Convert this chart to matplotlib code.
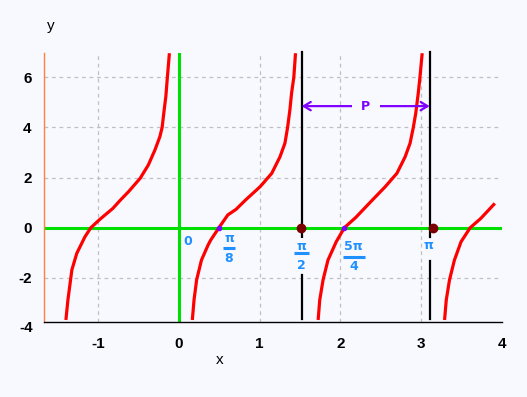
import matplotlib
matplotlib.use("Agg")
import matplotlib.pyplot as plt

# ---- data ----
b1_x = [-1.398, -1.373, -1.324, -1.263, -1.162, -1.089, -0.979, -0.817, -0.724, -0.622, -0.479, -0.378, -0.296, -0.235, -0.207, -0.182, -0.161, -0.142, -0.117]
b1_y = [-3.68, -2.88, -1.68, -1.02, -0.36, 0.0, 0.33, 0.77, 1.10, 1.44, 1.97, 2.50, 3.10, 3.63, 4.0, 4.69, 5.23, 6.0, 6.96]

b2_x = [0.167, 0.188, 0.22, 0.28, 0.362, 0.395, 0.496, 0.606, 0.707, 0.824, 1.007, 1.150, 1.252, 1.313, 1.346, 1.374, 1.395, 1.423, 1.444]
b2_y = [-3.68, -2.88, -2.08, -1.29, -0.69, -0.49, 0.0, 0.51, 0.73, 1.10, 1.64, 2.17, 2.83, 3.37, 4.0, 4.69, 5.36, 6.0, 6.96]

b3_x = [1.724, 1.744, 1.785, 1.846, 1.948, 2.049, 2.19, 2.394, 2.556, 2.699, 2.801, 2.862, 2.902, 2.932, 2.963, 2.984, 3.012]
b3_y = [-3.68, -2.88, -2.08, -1.29, -0.56, 0.0, 0.41, 1.10, 1.64, 2.17, 2.83, 3.37, 4.0, 4.56, 5.36, 6.0, 6.96]

b4_x = [3.289, 3.31, 3.35, 3.411, 3.493, 3.606, 3.737, 3.911]
b4_y = [-3.68, -2.88, -2.08, -1.29, -0.56, 0.0, 0.37, 0.97]

branches = [(b1_x, b1_y), (b2_x, b2_y), (b3_x, b3_y), (b4_x, b4_y)]

zero_pts_x = [0.496, 2.049]          # purple marks on the zero crossings
asym_x = [1.52, 3.105]               # black vertical lines
asym_gap = [(-0.36, -1.89), (-0.36, -1.33)]   # where labels interrupt them
dot_x = [1.51, 3.14]                 # dark red dots on the x axis
arrow_y = 4.85
arrow_label = "P"

x_ticks = [-1, 0, 1, 2, 3, 4]
y_ticks = [-4, -2, 0, 2, 4, 6]
x_grid = [-1, 1, 2, 3]
y_grid = [-2, 2, 4, 6]

# simple labels: text, x, y
simple_labels = [("0", 0.111, -0.56), ("π", 3.094, -0.72)]
# fractions: numerator, denominator, x, numerator y, bar y, denominator y, bar width
fractions = [
    ("π", "8", 0.621, -0.45, -0.82, -1.22, 0.16),
    ("π", "2", 1.517, -0.73, -1.02, -1.49, 0.195),
    ("5π", "4", 2.165, -0.73, -1.16, -1.56, 0.27),
]

BG = "#f8f8ff"
GREEN = "#00e000"
BLUE = "#1e90ff"
PURPLE = "#8000ff"

plt.rcParams["font.family"] = ["Liberation Sans", "DejaVu Sans"]
plt.rcParams["axes.unicode_minus"] = False

fig = plt.figure(figsize=(5.27, 3.97), dpi=100, facecolor=BG)
ax = fig.add_axes([0.0835, 0.1889, 0.8691, 0.6768], facecolor=BG)

ax.set_xlim(-1.669, 3.925)
ax.set_ylim(-3.761, 6.956)

for gx in x_grid:
    ax.axvline(gx, color="#c0c0c0", lw=0.9, ls=(0, (3, 3)), zorder=1)
for gy in y_grid:
    ax.axhline(gy, color="#c0c0c0", lw=0.9, ls=(0, (3, 3)), zorder=1)

ax.axhline(0, color=GREEN, lw=2.2, zorder=2)
ax.axvline(0, color=GREEN, lw=2.2, zorder=2)

for xs, ys in branches:
    ax.plot(xs, ys, color="red", lw=2.3, zorder=4, solid_capstyle="butt")

ax.plot(zero_pts_x, [0] * len(zero_pts_x), "o", color=PURPLE, ms=3, zorder=5)

for ax_x, (g_top, g_bot) in zip(asym_x, asym_gap):
    ax.plot([ax_x, ax_x], [g_top, 6.99], color="black", lw=1.6, zorder=3, clip_on=False)
    ax.plot([ax_x, ax_x], [-3.64, g_bot], color="black", lw=1.6, zorder=3)
ax.plot(dot_x, [0] * len(dot_x), "o", color="#7a0000", ms=6, zorder=6)

ax.annotate("", xy=(asym_x[1], arrow_y), xytext=(asym_x[0], arrow_y),
            arrowprops=dict(arrowstyle="<->,head_length=0.5,head_width=0.3",
                            color=PURPLE, lw=1.6, shrinkA=0, shrinkB=0), zorder=5)
ax.text((asym_x[0] + asym_x[1]) / 2, arrow_y, arrow_label, color=PURPLE,
        fontsize=9, fontweight="bold", ha="center", va="center", zorder=6,
        family="DejaVu Sans",
        bbox=dict(boxstyle="square,pad=0.75", fc=BG, ec="none"))

for txt, lx, ly in simple_labels:
    ax.text(lx, ly, txt, color=BLUE, fontsize=9, fontweight="bold",
            ha="center", va="center", zorder=7, family="DejaVu Sans")

for num, den, fx, ny, by, dy, bw in fractions:
    ax.text(fx, ny, num, color=BLUE, fontsize=9, fontweight="bold",
            ha="center", va="center", zorder=7, family="DejaVu Sans",
            bbox=dict(boxstyle="square,pad=0.1", fc=BG, ec="none"))
    ax.text(fx, dy, den, color=BLUE, fontsize=9, fontweight="bold",
            ha="center", va="center", zorder=7, family="DejaVu Sans")
    ax.plot([fx - bw / 2, fx + bw / 2], [by, by], color=BLUE, lw=2.2,
            solid_capstyle="butt", zorder=7)

ax.set_xticks(x_ticks)
ax.set_yticks([t for t in y_ticks if t > -3.7])
ax.tick_params(axis="both", length=0, labelsize=11, colors="black")
for lab in ax.get_xticklabels() + ax.get_yticklabels():
    lab.set_fontweight("bold")
ax.tick_params(axis="x", pad=11)
ax.tick_params(axis="y", pad=9)
ax.text(-0.025, y_ticks[0], str(y_ticks[0]), transform=ax.get_yaxis_transform(), ha="right",
        va="center", fontsize=11, fontweight="bold", clip_on=False)

for s in ["top", "right"]:
    ax.spines[s].set_visible(False)
ax.spines["left"].set_color("#ff8040")
ax.spines["left"].set_linewidth(1.0)
ax.spines["bottom"].set_color("black")
ax.spines["bottom"].set_linewidth(1.0)

fig.text(220 / 527, 1 - 360 / 397, "x", fontsize=11, ha="center", va="center")
fig.text(51 / 527, 1 - 26 / 397, "y", fontsize=11, ha="center", va="center")

fig.savefig("out.png", dpi=100, facecolor=BG)
